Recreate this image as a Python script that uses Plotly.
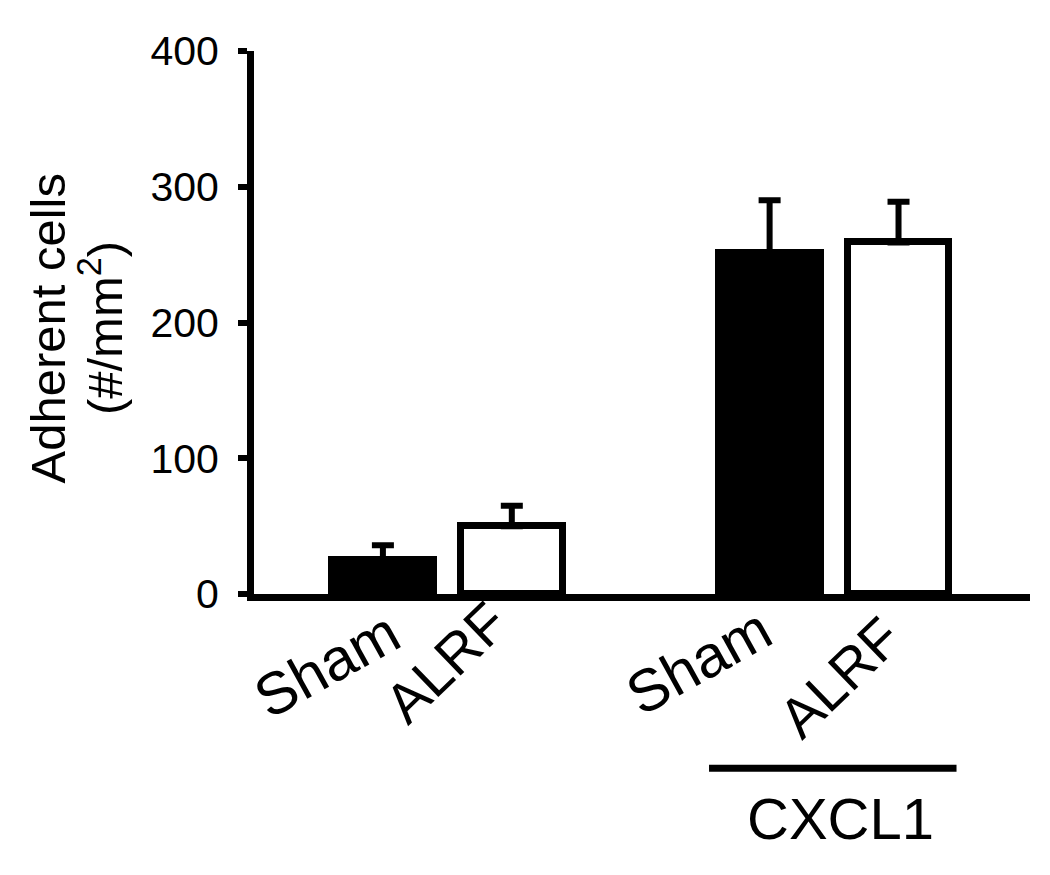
import plotly.graph_objects as go

# data
groups = ["", "CXCL1"]
conditions = ["Sham", "ALRF"]
means = [25, 50, 251, 259]
sems = [11, 15, 39, 30]
fills = ["black", "white", "black", "white"]
y_ticks = [0, 100, 200, 300, 400]

font = "Liberation Sans, Arial, sans-serif"

# slot positions: two bars per group, one empty slot between groups
pos = []
labels = []
for gi, g in enumerate(groups):
    for ci, c in enumerate(conditions):
        pos.append(gi * 3 + ci)
        labels.append(c)

# pixel offsets of the slanted category labels (hand placed in the original)
label_shift = [(-56, -71), (-66, -68), (-71, -68), (-59, -83)]
label_style = {"Sham": (-29, 59), "ALRF": (-44, 56)}

fig = go.Figure()
fig.add_trace(go.Bar(
    x=pos,
    y=means,
    width=0.79,
    marker=dict(color=fills, line=dict(color="black", width=7)),
    error_y=dict(type="data", array=sems, arrayminus=[0] * len(sems),
                 symmetric=False, color="black", thickness=6, width=11),
    showlegend=False,
))

annotations = []
for p, lab, (dx, dy) in zip(pos, labels, label_shift):
    ang, size = label_style[lab]
    annotations.append(dict(
        x=p, y=0, xref="x", yref="y", xshift=dx, yshift=dy,
        text=lab, showarrow=False, textangle=ang,
        font=dict(family=font, size=size, color="black"),
        xanchor="center", yanchor="middle",
    ))

# group label under the CXCL1 pair
annotations.append(dict(
    x=(pos[2] + pos[3]) / 2 + 0.05, y=-0.414, xref="x", yref="paper",
    text=groups[1], showarrow=False,
    font=dict(family=font, size=58, color="black"),
    xanchor="center", yanchor="middle",
))

# y axis title, two lines
annotations.append(dict(
    x=-0.266, y=0.49, xref="paper", yref="paper",
    text="Adherent cells", showarrow=False, textangle=-90,
    font=dict(family=font, size=49, color="black"),
    xanchor="center", yanchor="middle",
))
annotations.append(dict(
    x=-0.197, y=0.49, xref="paper", yref="paper",
    text="(#/mm<sup>2</sup>)", showarrow=False, textangle=-90,
    font=dict(family=font, size=49, color="black"),
    xanchor="center", yanchor="middle",
))

fig.add_shape(type="line", xref="x", yref="paper",
              x0=pos[2] - 0.47, x1=pos[3] + 0.45, y0=-0.321, y1=-0.321,
              line=dict(color="black", width=7))

fig.update_layout(
    width=1050, height=875,
    margin=dict(l=246, r=28, t=43, b=289),
    plot_bgcolor="white", paper_bgcolor="white",
    font=dict(family=font, color="black"),
    annotations=annotations,
    bargap=0,
)
fig.update_xaxes(range=[-1.0, 5.02], showline=True, linecolor="black", linewidth=7,
                 showticklabels=False, ticks="", showgrid=False, zeroline=False)
fig.update_yaxes(range=[0, 400], tickvals=y_ticks, showline=True, linecolor="black",
                 linewidth=7, ticks="outside", ticklen=9, tickwidth=6, tickcolor="black",
                 showgrid=False, zeroline=False, ticklabelstandoff=11,
                 tickfont=dict(family=font, size=41, color="black"))

fig.write_html("out.html")
